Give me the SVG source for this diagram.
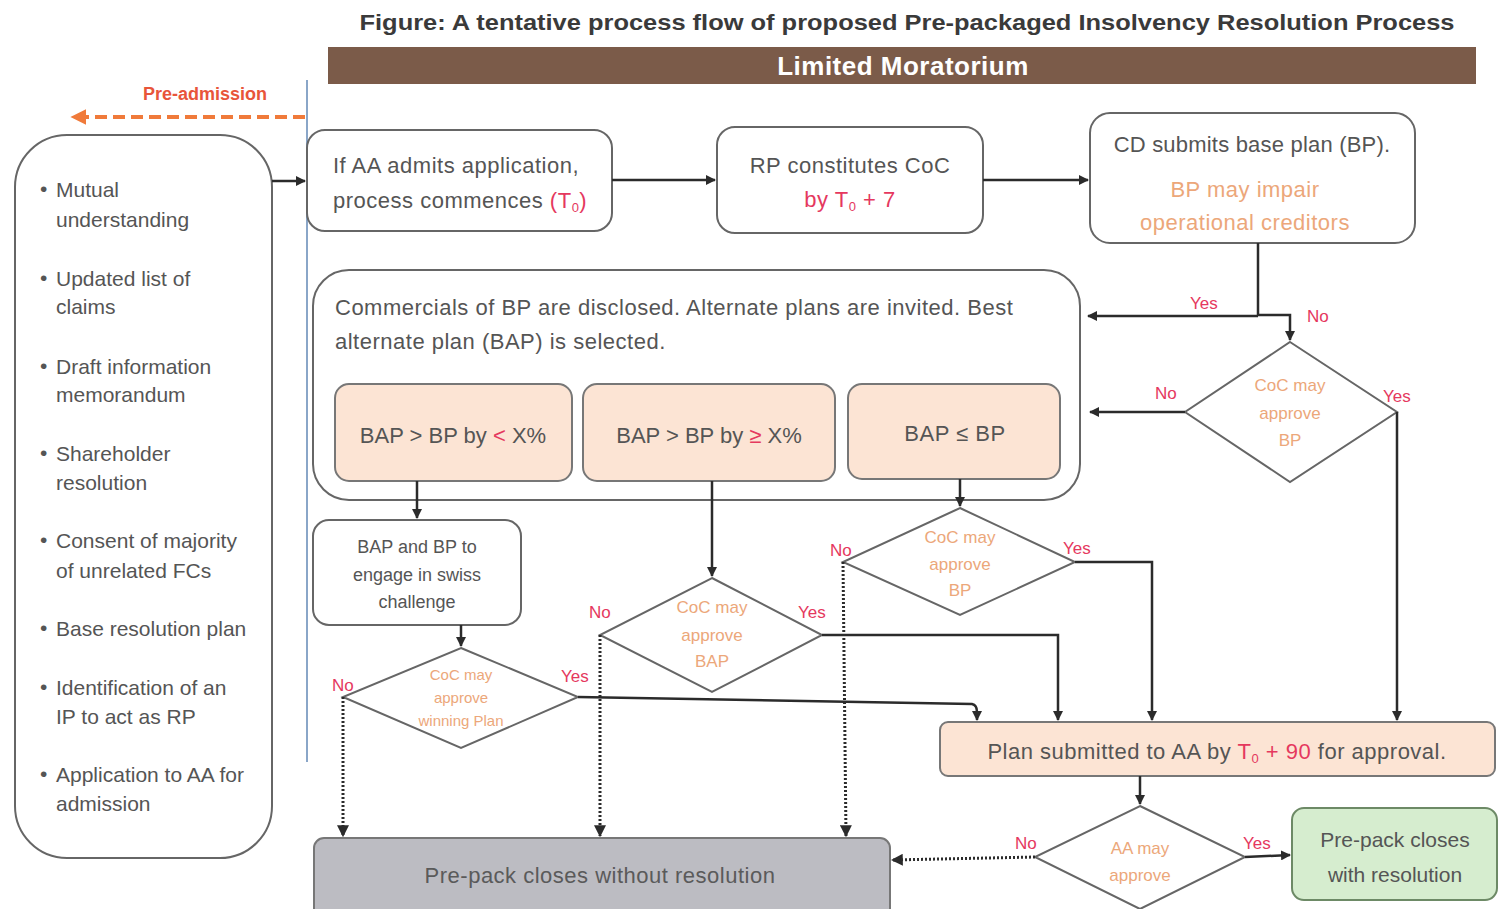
<svg xmlns="http://www.w3.org/2000/svg" width="1499" height="909" viewBox="0 0 1499 909">
<style>
text{font-family:"Liberation Sans",Arial,sans-serif;fill:#555}
.t{font-size:22px;letter-spacing:0.5px}
.l{font-size:21px}
.c{text-anchor:middle}
.or{fill:#eca77a}
.pk{fill:#e5385e}
.lab{font-size:17px;fill:#e5385e}
.box{fill:#fff;stroke:#666;stroke-width:2}
.peach{fill:#fce4d4;stroke:#777;stroke-width:2}
.dia{fill:#fff;stroke:#666;stroke-width:2}
.ln{fill:none;stroke:#2b2b2b;stroke-width:2.5}
.dt{fill:none;stroke:#2b2b2b;stroke-width:3;stroke-dasharray:2 2}
</style>
<defs>
<marker id="ah" viewBox="0 0 10 10" refX="9" refY="5" markerWidth="4" markerHeight="4" orient="auto" markerUnits="strokeWidth">
<path d="M0,0 L10,5 L0,10 z" fill="#2b2b2b"/>
</marker>
<marker id="aho" viewBox="0 0 10 10" refX="9" refY="5" markerWidth="4" markerHeight="4" orient="auto" markerUnits="strokeWidth">
<path d="M0,0 L10,5 L0,10 z" fill="#f07a3a"/>
</marker>
</defs>
<rect width="1499" height="909" fill="#fff"/>

<text x="907" y="30" class="c" style="font-size:22px;font-weight:bold;fill:#3a3a3a" textLength="1095" lengthAdjust="spacingAndGlyphs">Figure: A tentative process flow of proposed Pre-packaged Insolvency Resolution Process</text>

<g id="moratorium">
<rect x="328" y="47" width="1148" height="37" fill="#7b5b49"/>
<text x="903" y="75" class="c" style="font-size:26px;font-weight:bold;fill:#fff;letter-spacing:0.5px">Limited Moratorium</text>
</g>

<g id="pre-admission">
<text x="205" y="100" class="c" style="font-size:18px;fill:#e8553a;font-weight:bold">Pre-admission</text>
<line x1="305" y1="117" x2="72" y2="117" stroke="#f07a3a" stroke-width="4" stroke-dasharray="12 6" marker-end="url(#aho)"/>
</g>
<line x1="307" y1="80" x2="307" y2="762" stroke="#8aa6c8" stroke-width="2"/>

<g id="pre-list">
<rect x="15" y="135" width="257" height="723" rx="52" class="box"/>
<g class="l">
<text x="40" y="196">•</text><text x="56" y="197">Mutual</text><text x="56" y="227">understanding</text>
<text x="40" y="285">•</text><text x="56" y="286">Updated list of</text><text x="56" y="314">claims</text>
<text x="40" y="373">•</text><text x="56" y="374">Draft information</text><text x="56" y="402">memorandum</text>
<text x="40" y="460">•</text><text x="56" y="461">Shareholder</text><text x="56" y="490">resolution</text>
<text x="40" y="547">•</text><text x="56" y="548">Consent of majority</text><text x="56" y="578">of  unrelated FCs</text>
<text x="40" y="635">•</text><text x="56" y="636">Base resolution plan</text>
<text x="40" y="694">•</text><text x="56" y="695">Identification of an</text><text x="56" y="724">IP to act as RP</text>
<text x="40" y="781">•</text><text x="56" y="782">Application to AA for</text><text x="56" y="811">admission</text>
</g>
</g>

<g id="admit">
<rect x="307" y="130" width="305" height="101" rx="18" class="box"/>
<text x="333" y="173" class="t">If AA admits application,</text>
<text x="333" y="208" class="t">process commences <tspan class="pk">(T<tspan dy="4" style="font-size:13px">0</tspan><tspan dy="-4">)</tspan></tspan></text>
</g>

<g id="coc">
<rect x="717" y="127" width="266" height="106" rx="18" class="box"/>
<text x="850" y="173" class="t c">RP constitutes CoC</text>
<text x="850" y="207" class="t c pk">by T<tspan dy="4" style="font-size:13px">0</tspan><tspan dy="-4"> + 7</tspan></text>
</g>

<g id="baseplan">
<rect x="1090" y="113" width="325" height="130" rx="20" class="box"/>
<text x="1252" y="152" class="t c" style="letter-spacing:0.2px">CD submits base plan (BP).</text>
<text x="1245" y="197" class="t c or">BP may impair</text>
<text x="1245" y="230" class="t c or">operational creditors</text>
</g>

<g id="bap-box">
<rect x="313" y="270" width="767" height="230" rx="36" class="box"/>
<text x="335" y="315" class="t">Commercials of BP are disclosed. Alternate plans are invited. Best</text>
<text x="335" y="349" class="t">alternate plan (BAP) is selected.</text>
</g>
<g id="case-a">
<rect x="335" y="384" width="237" height="97" rx="14" class="peach"/>
<text x="453" y="443" class="t c" style="letter-spacing:0">BAP &gt; BP by <tspan class="pk">&lt;</tspan> X%</text>
</g>
<g id="case-b">
<rect x="583" y="384" width="252" height="97" rx="14" class="peach"/>
<text x="709" y="443" class="t c" style="letter-spacing:0">BAP &gt; BP by <tspan class="pk">≥</tspan> X%</text>
</g>
<g id="case-c">
<rect x="848" y="384" width="212" height="95" rx="14" class="peach"/>
<text x="955" y="441" class="t c">BAP ≤ BP</text>
</g>

<g id="swiss">
<rect x="313" y="520" width="208" height="105" rx="16" class="box"/>
<text x="417" y="553" class="c" style="font-size:18px">BAP and BP to</text>
<text x="417" y="581" class="c" style="font-size:18px">engage in swiss</text>
<text x="417" y="608" class="c" style="font-size:18px">challenge</text>
</g>

<g id="d-winning">
<polygon points="461,648 578,697 461,748 343,697" class="dia"/>
<text x="461" y="680" class="c or" style="font-size:15px">CoC may</text>
<text x="461" y="703" class="c or" style="font-size:15px">approve</text>
<text x="461" y="726" class="c or" style="font-size:15px">winning Plan</text>
</g>

<g id="d-bap">
<polygon points="712,578 822,635 712,692 600,635" class="dia"/>
<text x="712" y="613" class="c or" style="font-size:17px">CoC may</text>
<text x="712" y="641" class="c or" style="font-size:17px">approve</text>
<text x="712" y="667" class="c or" style="font-size:17px">BAP</text>
</g>

<g id="d-bp-mid">
<polygon points="960,508 1075,562 960,615 843,562" class="dia"/>
<text x="960" y="543" class="c or" style="font-size:17px">CoC may</text>
<text x="960" y="570" class="c or" style="font-size:17px">approve</text>
<text x="960" y="596" class="c or" style="font-size:17px">BP</text>
</g>

<g id="d-bp-right">
<polygon points="1290,342 1397,412 1290,482 1185,412" class="dia"/>
<text x="1290" y="391" class="c or" style="font-size:17px">CoC may</text>
<text x="1290" y="419" class="c or" style="font-size:17px">approve</text>
<text x="1290" y="446" class="c or" style="font-size:17px">BP</text>
</g>

<g id="plan-submitted">
<rect x="940" y="722" width="555" height="54" rx="8" class="peach"/>
<text x="1217" y="759" class="t c">Plan submitted to AA by <tspan class="pk">T<tspan dy="4" style="font-size:13px">0</tspan><tspan dy="-4"> + 90</tspan></tspan> for approval.</text>
</g>

<g id="d-aa">
<polygon points="1140,806 1245,857 1140,909 1035,857" class="dia"/>
<text x="1140" y="854" class="c or" style="font-size:17px">AA may</text>
<text x="1140" y="881" class="c or" style="font-size:17px">approve</text>
</g>

<g id="closes-with">
<rect x="1292" y="808" width="205" height="92" rx="12" fill="#d6edcf" stroke="#6d8a66" stroke-width="2"/>
<text x="1395" y="847" class="c" style="font-size:21px">Pre-pack closes</text>
<text x="1395" y="882" class="c" style="font-size:21px">with resolution</text>
</g>

<g id="closes-without">
<rect x="314" y="838" width="576" height="80" rx="10" fill="#bcbcc2" stroke="#777" stroke-width="2"/>
<text x="600" y="883" class="t c" style="fill:#5a5a5a">Pre-pack closes without resolution</text>
</g>

<g id="connectors">
<path d="M272,181 H305" class="ln" marker-end="url(#ah)"/>
<path d="M612,180 H715" class="ln" marker-end="url(#ah)"/>
<path d="M983,180 H1088" class="ln" marker-end="url(#ah)"/>
<path d="M1258,243 V315" class="ln"/>
<path d="M1258,316 H1088" class="ln" marker-end="url(#ah)"/>
<path d="M1258,315 H1290 V340" class="ln" marker-end="url(#ah)"/>
<path d="M1185,412 H1090" class="ln" marker-end="url(#ah)"/>
<path d="M1397,412 V720" class="ln" marker-end="url(#ah)"/>
<path d="M417,481 V518" class="ln" marker-end="url(#ah)"/>
<path d="M712,481 V576" class="ln" marker-end="url(#ah)"/>
<path d="M960,479 V506" class="ln" marker-end="url(#ah)"/>
<path d="M461,625 V646" class="ln" marker-end="url(#ah)"/>
<path d="M578,697 L972,704 Q977,705 977,712 V720" class="ln" marker-end="url(#ah)"/>
<path d="M822,635 H1058 V720" class="ln" marker-end="url(#ah)"/>
<path d="M1075,562 H1152 V720" class="ln" marker-end="url(#ah)"/>
<path d="M343,697 V836" class="dt" marker-end="url(#ah)"/>
<path d="M600,635 V836" class="dt" marker-end="url(#ah)"/>
<path d="M843,562 L846,836" class="dt" marker-end="url(#ah)"/>
<path d="M1140,776 V804" class="ln" marker-end="url(#ah)"/>
<path d="M1035,857 L892,860" class="dt" marker-end="url(#ah)"/>
<path d="M1245,857 L1290,855" class="ln" marker-end="url(#ah)"/>
</g>

<g id="labels">
<text x="1190" y="309" class="lab">Yes</text>
<text x="1307" y="322" class="lab">No</text>
<text x="1155" y="399" class="lab">No</text>
<text x="1383" y="402" class="lab">Yes</text>
<text x="830" y="556" class="lab">No</text>
<text x="1063" y="554" class="lab">Yes</text>
<text x="589" y="618" class="lab">No</text>
<text x="798" y="618" class="lab">Yes</text>
<text x="332" y="691" class="lab">No</text>
<text x="561" y="682" class="lab">Yes</text>
<text x="1015" y="849" class="lab">No</text>
<text x="1243" y="849" class="lab">Yes</text>
</g>
</svg>
